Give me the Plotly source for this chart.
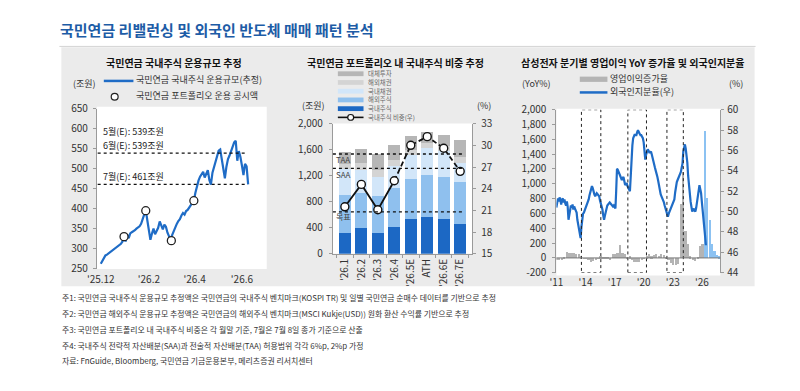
import plotly.graph_objects as go
import pandas as pd

W, H = 800, 391
FONT = "Noto Sans CJK KR"
BLUE = "#1f6cc6"
TITLE_BLUE = "#1d5ca6"


def px(x):
    return x / W


def py(y):
    return 1 - y / H


# ---------------- Panel 1 data ----------------
p1_values = [262, 268, 276, 283, 285, 288, 291, 293, 295, 300, 302, 304, 307, 312, 318, 332,
             318, 335, 326, 338, 341, 343, 346, 350, 352, 356, 362, 372, 385, 397, 371, 340,
             322, 338, 350, 336, 345, 352, 368, 356, 348, 360, 355, 340, 332, 322, 334, 345,
             351, 362, 369, 374, 383, 389, 385, 394, 397, 402, 410, 414, 420, 440, 456, 470,
             480, 488, 492, 478, 490, 496, 472, 460, 490, 505, 516, 530, 545, 548, 524, 500,
             476, 505, 524, 533, 545, 558, 566, 570, 520, 544, 530, 508, 484, 512, 506, 461]
p1_dates = pd.date_range("2025-12-01", periods=len(p1_values), freq="2D")
p1_disc_dates = ["2025-12-31", "2026-01-28", "2026-03-02", "2026-03-31"]
p1_disc_values = [330, 395, 320, 420]
p1_ticks = ["2025-12-01", "2026-02-01", "2026-04-01", "2026-06-01"]
p1_ticktext = ["'25.12", "'26.2", "'26.4", "'26.6"]
p1_refs = [539, 461]

# ---------------- Panel 2 data ----------------
p2_cats = ["'26.1", "'26.2", "'26.3", "'26.4", "'26.5E", "ATH", "'26.6E", "'26.7E"]
p2_dom_eq = [323, 390, 315, 415, 535, 567, 535, 458]
p2_for_eq = [582, 545, 571, 595, 620, 638, 645, 649]
p2_dom_bond = [395, 345, 294, 340, 365, 415, 395, 293]
p2_for_bond = [80, 110, 110, 90, 80, 80, 75, 90]
p2_alt = [178, 217, 243, 230, 202, 167, 182, 264]
p2_pct = [21.5, 24.6, 21.1, 25.1, 30.0, 31.2, 29.6, 26.4]
p2_bands = {"TAA": 28.8, "SAA": 26.8, "목표": 20.8}

# ---------------- Panel 3 data ----------------
p3_own = [
    50.4, 50.9, 51.3, 51.0, 51.4, 51.1, 50.7, 51.2, 51.3, 50.9, 51.2, 50.8,
    50.6, 51.0, 50.5, 49.2, 49.6, 50.3, 50.6, 50.4, 50.7, 50.2, 50.5, 50.3,
    50.1, 49.9, 49.2, 48.7, 48.2, 47.6, 47.4, 48.5, 49.6, 49.8, 49.9, 50.1,
    50.3, 50.5, 50.8, 51.0, 51.2, 51.6, 52.0, 52.3, 52.5, 52.3, 51.9, 51.7,
    51.5, 51.6, 51.8, 51.7, 51.6, 51.5, 51.1, 50.8, 50.5, 50.2, 49.6, 49.2,
    49.6, 49.9, 50.4, 50.6, 50.7, 50.8, 50.9, 50.8, 50.7, 50.6, 50.5, 50.6,
    50.4, 50.3, 52.0, 54.2, 54.1, 53.9, 53.8, 53.6, 53.3, 53.1, 53.3, 53.4,
    53.0, 52.6, 52.7, 52.8, 52.5, 52.3, 52.1, 52.0, 53.5, 55.8, 56.5, 57.2,
    57.4, 57.6, 57.5, 57.5, 57.8, 58.0, 57.8, 57.6, 57.5, 57.5, 57.3, 57.2,
    56.8, 55.4, 55.1, 55.6, 55.9, 56.1, 56.0, 55.8, 55.8, 55.9, 55.6, 55.2,
    55.0, 54.7, 54.3, 54.0, 53.8, 53.4, 53.0, 52.5, 52.0, 51.7, 51.5, 51.3,
    51.2, 50.9, 50.6, 50.3, 50.1, 49.8, 49.5, 49.8, 50.0, 50.1, 50.3, 50.5,
    50.8, 51.0, 51.2, 51.9, 52.5, 52.9, 53.1, 53.3, 53.4, 53.6, 53.9, 54.3,
    54.7, 55.9, 56.3, 56.6, 56.2, 55.6, 54.8, 53.5, 52.4, 51.8, 51.0, 50.5,
    50.0, 50.2, 50.3, 50.1, 50.0, 50.4, 50.9, 51.4, 52.1, 52.6, 52.2, 51.8,
    50.9, 50.2, 49.6, 48.6, 47.6, 46.7,
]
p3_own_dates = pd.date_range("2011-01-01", periods=len(p3_own), freq="MS")

p3_yoy = [
    -30, -25, -18, 8,
    78, 65, 72, 70,
    55, 48, 25, -5,
    -3, -25, -55, -37,
    -30, -5, 20, 15,
    12, 18, -30, 50,
    48, 73, 172, 64,
    58, 6, 21, -29,
    -55, -56, -56, -34,
    3, 23, 55, 26,
    46, 50, 28, 50,
    45, 12, -31, -69,
    -95, -95, -78, 725,
    1155, 357, 185, 20,
    -25, -35, 15, 160,
    190, 1716, 810, 509,
    185, 99, 43, 20,
]
p3_n_actual = 61
p3_q_dates = pd.date_range("2011-01-01", periods=len(p3_yoy), freq="QS") + pd.Timedelta(days=22)
p3_boxes = [("2013-08-01", "2015-08-01"), ("2018-05-15", "2020-04-15"), ("2022-05-25", "2024-02-01")]
p3_ticks = ["2011-01-01", "2014-01-01", "2017-01-01", "2020-01-01", "2023-01-01", "2026-01-01"]
p3_ticktext = ["'11", "'14", "'17", "'20", "'23", "'26"]
p3_left_ticks = list(range(-200, 2001, 200))

# ---------------- Figure ----------------
fig = go.Figure()

# Panel 1
fig.add_trace(go.Scatter(x=p1_dates, y=p1_values, mode="lines",
                         line=dict(color=BLUE, width=2.2), xaxis="x", yaxis="y", showlegend=False))
fig.add_trace(go.Scatter(x=p1_disc_dates, y=p1_disc_values, mode="markers",
                         marker=dict(size=8, color="white", line=dict(color="#222", width=1.3)),
                         xaxis="x", yaxis="y", showlegend=False))

# Panel 2 bars
bar_specs = [(p2_dom_eq, "#1c68c4"), (p2_for_eq, "#8fc0ee"), (p2_dom_bond, "#d2e6f9"),
             (p2_for_bond, "#d4d4d4"), (p2_alt, "#b6b6b6")]
for vals, col in bar_specs:
    fig.add_trace(go.Bar(x=p2_cats, y=vals, marker=dict(color=col, line=dict(width=0)),
                         xaxis="x2", yaxis="y2", showlegend=False))
fig.add_trace(go.Scatter(x=p2_cats[:4], y=p2_pct[:4], mode="lines",
                         line=dict(color="#111", width=1.8), xaxis="x2", yaxis="y3", showlegend=False))
fig.add_trace(go.Scatter(x=p2_cats[3:], y=p2_pct[3:], mode="lines",
                         line=dict(color="#111", width=1.8, dash="5px,3px"), xaxis="x2", yaxis="y3",
                         showlegend=False))
fig.add_trace(go.Scatter(x=p2_cats, y=p2_pct, mode="markers",
                         marker=dict(size=8, color="white", line=dict(color="#111", width=1.4)),
                         xaxis="x2", yaxis="y3", showlegend=False))

# Panel 3
fig.add_trace(go.Bar(x=p3_q_dates[:p3_n_actual], y=p3_yoy[:p3_n_actual], width=82 * 86400000,
                     marker=dict(color="#b4b4b4", line=dict(width=0)), xaxis="x3", yaxis="y4",
                     showlegend=False))
fig.add_trace(go.Bar(x=p3_q_dates[p3_n_actual:], y=p3_yoy[p3_n_actual:], width=82 * 86400000,
                     marker=dict(color="#8cc2f2", line=dict(width=0)), xaxis="x3", yaxis="y4",
                     showlegend=False))
fig.add_trace(go.Scatter(x=p3_own_dates, y=p3_own, mode="lines",
                         line=dict(color=BLUE, width=2.2), xaxis="x3", yaxis="y5", showlegend=False))

axis_common = dict(showgrid=False, zeroline=False, linecolor="#9a9a9a", tickcolor="#9a9a9a",
                   tickfont=dict(family=FONT, size=10, color="#333"))

fig.update_layout(
    width=W, height=391, autosize=False,
    margin=dict(l=0, r=0, t=0, b=0),
    paper_bgcolor="white", plot_bgcolor="rgba(0,0,0,0)",
    barmode="stack", bargap=0.26,
    font=dict(family=FONT, color="#333"),
    showlegend=False,
    xaxis=dict(domain=[px(88), px(260)], anchor="y", type="date",
               range=["2025-11-26", "2026-07-03"], tickvals=p1_ticks, ticktext=p1_ticktext,
               showline=False, ticks="", ticklabelstandoff=3, **axis_common),
    yaxis=dict(domain=[py(270.7), py(104)], anchor="x", range=[250, 650], dtick=50,
               showline=True, ticks="outside", ticklen=3, ticklabelstandoff=3, **axis_common),
    xaxis2=dict(domain=[px(327), px(468)], anchor="y2", type="category", tickangle=-90,
                showline=True, ticks="outside", ticklen=3, tickson="boundaries", **axis_common),
    yaxis2=dict(domain=[py(255.3), py(119.5)], anchor="x2", range=[0, 2000], dtick=400,
                tickformat=",", showline=True, ticks="outside", ticklen=3, ticklabelstandoff=4,
                **axis_common),
    yaxis3=dict(overlaying="y2", anchor="x2", side="right", range=[15, 33], dtick=3,
                showline=True, ticks="outside", ticklen=3, ticklabelstandoff=3, **axis_common),
    xaxis3=dict(domain=[px(553.3), px(719.3)], anchor="y4", type="date",
                range=["2011-01-01", "2027-11-25"], tickvals=p3_ticks, ticktext=p3_ticktext,
                showline=False, ticks="", ticklabelstandoff=2, **axis_common),
    yaxis4=dict(domain=[py(275), py(105)], anchor="x3", range=[-200, 2000],
                tickvals=p3_left_ticks, ticktext=[f"{v:,}" for v in p3_left_ticks],
                showline=True, ticks="outside", ticklen=3, ticklabelstandoff=4, **axis_common),
    yaxis5=dict(overlaying="y4", anchor="x3", side="right", range=[44, 60], dtick=2,
                showline=True, ticks="outside", ticklen=3, ticklabelstandoff=1, **axis_common),
)

shapes = []
# background
shapes.append(dict(type="rect", xref="paper", yref="paper", x0=px(52), x1=px(754), y0=py(289), y1=py(40),
                   fillcolor="#ebebeb", line=dict(width=0), layer="below"))
for (x0, x1, y0, y1) in [(88, 260, 271, 102), (327, 468, 255.3, 119.5), (553.3, 719.3, 278, 104)]:
    shapes.append(dict(type="rect", xref="paper", yref="paper", x0=px(x0), x1=px(x1), y0=py(y0), y1=py(y1),
                       fillcolor="white", line=dict(width=0), layer="below"))
# title underline
shapes.append(dict(type="line", xref="paper", yref="paper", x0=px(50), x1=px(755), y0=py(39), y1=py(39),
                   line=dict(color="#d3d3d3", width=1)))
# P1 reference lines
for v in p1_refs:
    shapes.append(dict(type="line", xref="x", yref="y", x0="2025-11-27", x1="2026-06-05", y0=v, y1=v,
                       line=dict(color="#111", width=1.3, dash="dot")))
# P2 band lines
for name, v in p2_bands.items():
    shapes.append(dict(type="line", xref="x2 domain", yref="y3", x0=0, x1=0.945, y0=v, y1=v,
                       line=dict(color="#111", width=1.3, dash="dot")))
# P3 boxes
for a, b in p3_boxes:
    shapes.append(dict(type="rect", xref="x3", yref="y4", x0=a, x1=b, y0=-200, y1=2000,
                       line=dict(color="#222", width=1, dash="dot"), fillcolor="rgba(0,0,0,0)"))
# P3 zero line
shapes.append(dict(type="line", xref="x3 domain", yref="y4", x0=0, x1=1, y0=0, y1=0,
                   line=dict(color="#777", width=1)))

# legend glyphs
shapes.append(dict(type="line", xref="paper", yref="paper", x0=px(95), x1=px(125), y0=py(75), y1=py(75),
                   line=dict(color=BLUE, width=2.5)))
shapes.append(dict(type="circle", xref="paper", yref="paper", x0=px(102.5), x1=px(109.5), y0=py(95), y1=py(88),
                   line=dict(color="#222", width=1.2), fillcolor="white"))
p2_leg_cols = ["#b6b6b6", "#d4d4d4", "#d2e6f9", "#8fc0ee", "#1c68c4"]
p2_leg_names = ["대체투자", "해외채권", "국내채권", "해외주식", "국내주식", "국내주식 비중(우)"]
p2_leg_rows = [67.5, 76.6, 85.7, 94.8, 103.9, 113.0]
for c, yy in zip(p2_leg_cols, p2_leg_rows[:5]):
    shapes.append(dict(type="rect", xref="paper", yref="paper", x0=px(332), x1=px(358), y0=py(yy + 2.5),
                       y1=py(yy - 2.5), fillcolor=c, line=dict(width=0)))
yl = p2_leg_rows[5]
shapes.append(dict(type="line", xref="paper", yref="paper", x0=px(332), x1=px(358), y0=py(yl), y1=py(yl),
                   line=dict(color="#111", width=1.6)))
shapes.append(dict(type="circle", xref="paper", yref="paper", x0=px(342), x1=px(348), y0=py(yl + 3), y1=py(yl - 3),
                   line=dict(color="#111", width=1.2), fillcolor="white"))
shapes.append(dict(type="rect", xref="paper", yref="paper", x0=px(577), x1=px(605), y0=py(76), y1=py(70.5),
                   fillcolor="#b4b4b4", line=dict(width=0)))
shapes.append(dict(type="line", xref="paper", yref="paper", x0=px(577), x1=px(605), y0=py(87), y1=py(87),
                   line=dict(color=BLUE, width=2.5)))
fig.update_layout(shapes=shapes)

ann = []


def txt(x, y, s, size=9, color="#333", xanchor="left", bold=False, align="left"):
    ann.append(dict(xref="paper", yref="paper", x=px(x), y=py(y), text=(f"<b>{s}</b>" if bold else s),
                    showarrow=False, xanchor=xanchor, yanchor="middle", align=align, borderpad=0,
                    font=dict(family=FONT, size=size, color=color)))


txt(50, 21, "국민연금 리밸런싱 및 외국인 반도체 매매 패턴 분석", size=15, color=TITLE_BLUE, bold=True)
txt(166, 56, "국민연금 국내주식 운용규모 추정", size=10, color="#111", xanchor="center", bold=True)
txt(390, 56, "국민연금 포트폴리오 내 국내주식 비중 추정", size=10, color="#111", xanchor="center", bold=True)
txt(631, 56, "삼성전자 분기별 영업이익 YoY 증가율 및 외국인지분율", size=10, color="#111", xanchor="center", bold=True)

# P1 legend/annotations
txt(75, 78, "(조원)", xanchor="center")
txt(127, 74, "국민연금 국내주식 운용규모(추정)")
txt(127, 90.5, "국민연금 포트폴리오 운용 공시액")
txt(93, 127.5, "5월(E): 539조원", color="#222")
txt(93, 142.5, "6월(E): 539조원", color="#222")
txt(93, 174.5, "7월(E): 461조원", color="#222")

# P2 legend/annotations
for name, yy in zip(p2_leg_names, p2_leg_rows):
    txt(362, yy, name, size=6.4, color="#666")
txt(307, 101, "(조원)", xanchor="center")
txt(480, 101, "(%)", xanchor="center")
txt(329, 156.5, "TAA", size=8, color="#444")
txt(329, 172.5, "SAA", size=8, color="#444")
txt(329, 216.5, "목표", size=8, color="#444")

# P3 legend
txt(533, 78, "(YoY%)", xanchor="center")
txt(735, 78, "(%)", xanchor="center")
txt(607, 72.5, "영업이익증가율")
txt(607, 86.5, "외국인지분율(우)")

# footnotes
notes = [
    "주1: 국민연금 국내주식 운용규모 추정액은 국민연금의 국내주식 벤치마크(KOSPI TR) 및 일별 국민연금 순매수 데이터를 기반으로 추정",
    "주2: 국민연금 해외주식 운용규모 추정액은 국민연금의 해외주식 벤치마크(MSCI Kukje(USD)) 원화 환산 수익률 기반으로 추정",
    "주3: 국민연금 포트폴리오 내 국내주식 비중은 각 월말 기준, 7월은 7월 8일 종가 기준으로 산출",
    "주4: 국내주식 전략적 자산배분(SAA)과 전술적 자산배분(TAA) 허용범위 각각 6%p, 2%p 가정",
    "자료: FnGuide, Bloomberg, 국민연금 기금운용본부, 메리츠증권 리서치센터",
]
for s, yy in zip(notes, [300.5, 317.5, 334.5, 350.5, 366.5]):
    txt(52, yy, s, size=7.9, color="#333")

fig.update_layout(annotations=ann)
fig.write_html("out.html")
